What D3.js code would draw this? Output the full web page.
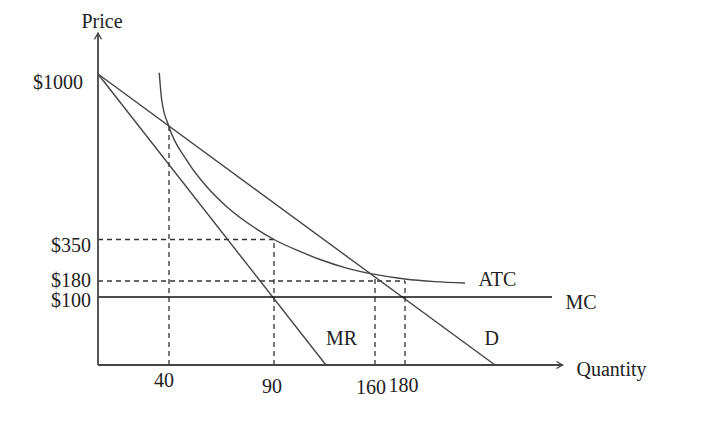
<!DOCTYPE html>
<html>
<head>
<meta charset="utf-8">
<script src="https://cdn.jsdelivr.net/npm/d3@7"></script>
<style>
  html, body { margin: 0; padding: 0; background: #fff; }
  svg { display: block; }
  text { font-family: "Liberation Serif", "Times New Roman", serif; font-size: 20px; fill: #222; }
</style>
</head>
<body>
<svg id="chart" width="706" height="426"></svg>
<script>
// ---- data ----
const quantityTicks = [40, 90, 160, 180];
const priceTicks = [100, 180, 350, 1000];
const demand = [[0, 1000], [240, 0]];
const marginalRevenue = [[0, 1000], [126, 0]];
const marginalCost = [[0, 100], [278, 100]];
const averageTotalCost = [
  [34.5, 1005], [35.9, 898], [40, 793], [48.4, 662], [58, 557], [67.5, 479],
  [80.1, 400], [90, 350], [108, 301], [121.9, 268], [139.2, 235], [160, 207],
  [180, 188], [200, 177], [220, 170]
];
const guideHorizontal = [[90, 350], [180, 180]];           // [quantity, price]
const guideVertical = [[40, 793], [90, 350], [160, 205], [180, 180]];
const axisMaxQuantity = 285;
const axisMaxPrice = 1160;
const curveLabels = [
  { name: "ATC", q: 229, p: 155 },
  { name: "MC", q: 287, p: 82 },
  { name: "MR", q: 126, p: 29 },
  { name: "D", q: 233, p: 29 }
];

// ---- scales (schematic, piecewise) ----
const x = d3.scaleLinear().domain([0, 40, 90, 160, 180, 240]).range([98, 169, 274, 375, 405, 495]);
const y = d3.scaleLinear().domain([0, 100, 180, 350, 1000]).range([365, 297, 281, 239.5, 74]);

const svg = d3.select("#chart");
const line = d3.line().x(d => x(d[0])).y(d => y(d[1]));

// dashed guides
const dash = "5,4";
svg.append("g").selectAll("line").data(guideHorizontal).join("line")
  .attr("x1", x(0)).attr("x2", d => x(d[0]))
  .attr("y1", d => y(d[1])).attr("y2", d => y(d[1]))
  .attr("stroke", "#333").attr("stroke-width", 1.3).attr("stroke-dasharray", dash);
svg.append("g").selectAll("line").data(guideVertical).join("line")
  .attr("x1", d => x(d[0])).attr("x2", d => x(d[0]))
  .attr("y1", y(0)).attr("y2", d => y(d[1]))
  .attr("stroke", "#333").attr("stroke-width", 1.3).attr("stroke-dasharray", dash);

// curves
svg.append("path").datum(demand).attr("d", line)
  .attr("fill", "none").attr("stroke", "#444").attr("stroke-width", 1.4);
svg.append("path").datum(marginalRevenue).attr("d", line)
  .attr("fill", "none").attr("stroke", "#444").attr("stroke-width", 1.4);
svg.append("path").datum(marginalCost).attr("d", line)
  .attr("fill", "none").attr("stroke", "#111").attr("stroke-width", 1.5);
svg.append("path").datum(averageTotalCost)
  .attr("d", d3.line().x(d => x(d[0])).y(d => y(d[1])).curve(d3.curveMonotoneX))
  .attr("fill", "none").attr("stroke", "#444").attr("stroke-width", 1.4);

// axes
const ax = svg.append("g").attr("stroke", "#444").attr("stroke-width", 1.8).attr("fill", "none");
ax.append("line").attr("x1", x(0)).attr("x2", x(0)).attr("y1", y(0)).attr("y2", y(axisMaxPrice));
ax.append("line").attr("x1", x(0)).attr("x2", x(axisMaxQuantity)).attr("y1", y(0)).attr("y2", y(0));
ax.append("path").attr("stroke-width", 1.4)
  .attr("d", `M${x(0) - 3.5},${y(axisMaxPrice) + 6}L${x(0)},${y(axisMaxPrice)}L${x(0) + 3.5},${y(axisMaxPrice) + 6}`);
ax.append("path").attr("stroke-width", 1.4)
  .attr("d", `M${x(axisMaxQuantity) - 6},${y(0) - 3.5}L${x(axisMaxQuantity)},${y(0)}L${x(axisMaxQuantity) - 6},${y(0) + 3.5}`);

// tick labels (hand-placed offsets to mimic the original sketch)
const priceLabelStyle = { 1000: { dx: -15, dy: 15 }, 350: { dx: -7, dy: 12 }, 180: { dx: -7, dy: 6 }, 100: { dx: -7, dy: 10 } };
svg.append("g").selectAll("text").data(priceTicks).join("text")
  .attr("x", d => x(0) + priceLabelStyle[d].dx)
  .attr("y", d => y(d) + priceLabelStyle[d].dy)
  .attr("text-anchor", "end")
  .text(d => "$" + d);

const qtyLabelStyle = { 40: { dx: -5, dy: 22 }, 90: { dx: -2, dy: 28 }, 160: { dx: -4, dy: 29 }, 180: { dx: -1.5, dy: 27 } };
svg.append("g").selectAll("text").data(quantityTicks).join("text")
  .attr("x", d => x(d) + qtyLabelStyle[d].dx)
  .attr("y", d => y(0) + qtyLabelStyle[d].dy)
  .attr("text-anchor", "middle")
  .text(d => d);

// axis titles
svg.append("text").attr("x", x(0) + 4).attr("y", 28).attr("text-anchor", "middle").text("Price");
svg.append("text").attr("x", x(axisMaxQuantity) + 14).attr("y", y(0) + 11).text("Quantity");

// curve labels
svg.append("g").selectAll("text").data(curveLabels).join("text")
  .attr("x", d => x(d.q)).attr("y", d => y(d.p))
  .text(d => d.name);
</script>
</body>
</html>
